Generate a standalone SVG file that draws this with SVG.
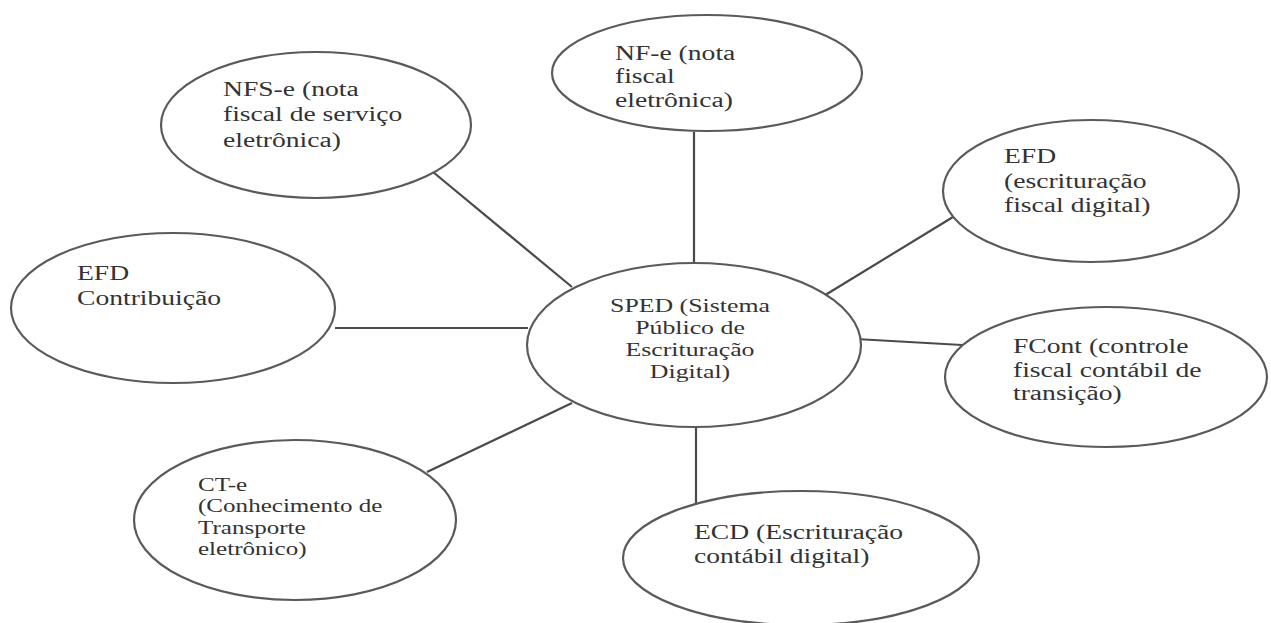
<svg xmlns="http://www.w3.org/2000/svg" width="1271" height="623" viewBox="0 0 1271 623">
<style>
.bg{fill:#ffffff}
.node ellipse{fill:#ffffff;stroke:#5a5a5a;stroke-width:2.2}
.node text{font-family:"Liberation Serif","Times New Roman",serif;font-size:20px;fill:#333333}
.conn line{stroke:#4a4a4a;stroke-width:2.2}
</style>
<rect class="bg" x="0" y="0" width="1271" height="623"/>
<g id="connectors" class="conn">
<line x1="433" y1="172" x2="572" y2="287"/>
<line x1="694" y1="132" x2="694" y2="262"/>
<line x1="953" y1="217" x2="822" y2="297"/>
<line x1="335" y1="328" x2="528" y2="328"/>
<line x1="856" y1="339" x2="962" y2="345"/>
<line x1="427" y1="472" x2="572" y2="403"/>
<line x1="696" y1="427" x2="696" y2="503"/>
</g>
<g id="node-nfse" class="node">
<ellipse cx="316" cy="125" rx="155" ry="73"/>
<text transform="translate(223,96) scale(1.38,1)"><tspan x="0" y="0">NFS-e (nota</tspan><tspan x="0" y="25.5">fiscal de serviço</tspan><tspan x="0" y="51">eletrônica)</tspan></text>
</g>
<g id="node-nfe" class="node">
<ellipse cx="707" cy="73" rx="155" ry="58"/>
<text transform="translate(615,60) scale(1.38,1)"><tspan x="0" y="0">NF-e (nota</tspan><tspan x="0" y="23.5">fiscal</tspan><tspan x="0" y="47">eletrônica)</tspan></text>
</g>
<g id="node-efd" class="node">
<ellipse cx="1091" cy="191" rx="148" ry="71"/>
<text transform="translate(1004,163) scale(1.38,1)"><tspan x="0" y="0">EFD</tspan><tspan x="0" y="25">(escrituração</tspan><tspan x="0" y="49">fiscal digital)</tspan></text>
</g>
<g id="node-efd-contribuicao" class="node">
<ellipse cx="173" cy="308" rx="162" ry="75"/>
<text transform="translate(77,280) scale(1.38,1)"><tspan x="0" y="0">EFD</tspan><tspan x="0" y="25">Contribuição</tspan></text>
</g>
<g id="node-sped" class="node">
<ellipse cx="694" cy="345" rx="167" ry="82"/>
<text transform="translate(690,312) scale(1.36,1)" text-anchor="middle" style="font-size:19px"><tspan x="0" y="0">SPED (Sistema</tspan><tspan x="0" y="22">Público de</tspan><tspan x="0" y="44">Escrituração</tspan><tspan x="0" y="66">Digital)</tspan></text>
</g>
<g id="node-fcont" class="node">
<ellipse cx="1106" cy="377" rx="161" ry="70"/>
<text transform="translate(1013,353) scale(1.38,1)"><tspan x="0" y="0">FCont (controle</tspan><tspan x="0" y="24">fiscal contábil de</tspan><tspan x="0" y="47">transição)</tspan></text>
</g>
<g id="node-cte" class="node">
<ellipse cx="295" cy="520" rx="161" ry="80"/>
<text transform="translate(198,491) scale(1.32,1)" style="font-size:19px"><tspan x="0" y="0">CT-e</tspan><tspan x="0" y="21.5">(Conhecimento de</tspan><tspan x="0" y="43">Transporte</tspan><tspan x="0" y="64.5">eletrônico)</tspan></text>
</g>
<g id="node-ecd" class="node">
<ellipse cx="801" cy="558" rx="178" ry="67"/>
<text transform="translate(694,539) scale(1.38,1)"><tspan x="0" y="0">ECD (Escrituração</tspan><tspan x="0" y="24">contábil digital)</tspan></text>
</g>
</svg>
